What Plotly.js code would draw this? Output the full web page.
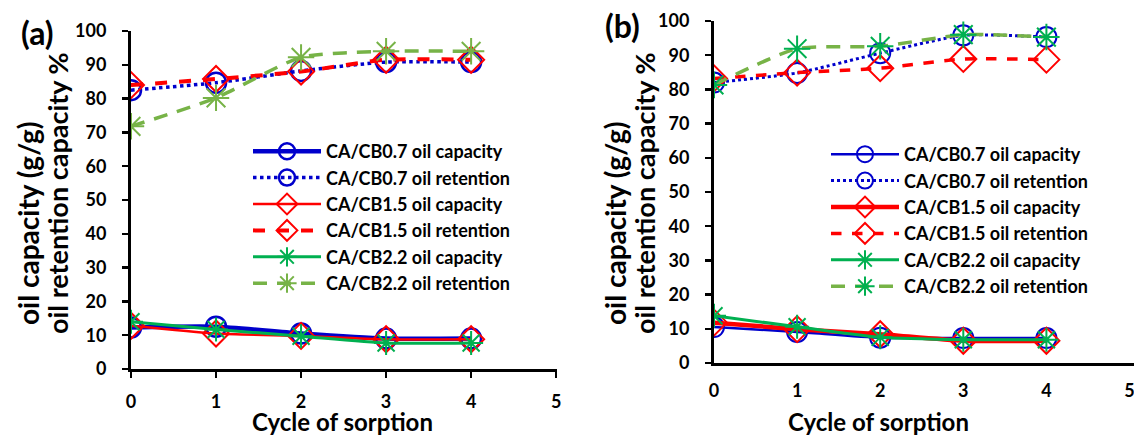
<!DOCTYPE html>
<html>
<head>
<meta charset="utf-8">
<script src="https://cdn.plot.ly/plotly-3.0.1.min.js"></script>
<style>html,body{margin:0;padding:0;background:#fff;}#chart{width:1134px;height:435px;}</style>
</head>
<body>
<div id="chart"></div>
<script>
// x values: cycle of sorption
const cycles = [0, 1, 2, 3, 4];

// Panel (a)
const a_cb07_cap = [12.3, 12.5, 10.5, 9.0, 9.0];
const a_cb07_ret = [82.5, 84.7, 88.2, 90.8, 90.8];
const a_cb15_cap = [12.8, 10.5, 9.8, 8.8, 8.8];
const a_cb15_ret = [84.0, 85.8, 88.0, 91.5, 91.5];
const a_cb22_cap = [14.0, 11.7, 9.7, 7.7, 7.7];
const a_cb22_ret = [71.8, 80.2, 92.2, 94.0, 94.0];

// Panel (b)
const b_cb07_cap = [10.5, 9.1, 7.4, 7.3, 7.3];
const b_cb07_ret = [82.0, 84.8, 90.6, 95.8, 95.3];
const b_cb15_cap = [11.8, 9.9, 8.4, 6.5, 6.5];
const b_cb15_ret = [83.2, 84.9, 86.2, 88.9, 88.7];
const b_cb22_cap = [13.8, 10.6, 7.5, 6.8, 6.8];
const b_cb22_ret = [81.3, 91.9, 92.6, 96.0, 95.3];

const names = [
  "CA/CB0.7 oil capacity", "CA/CB0.7 oil retention",
  "CA/CB1.5 oil capacity", "CA/CB1.5 oil retention",
  "CA/CB2.2 oil capacity", "CA/CB2.2 oil retention"
];
const panelLabels = ["(a)", "(b)"];
const yTitle1 = "oil capacity (g/g)";
const yTitle2 = "oil retention capacity %";
const xTitle = "Cycle of sorption";

const BLUE = "#0000CC", RED = "#FF0000", GREEN = "#00B050", LGREEN = "#77B347";
const FONT = "Lato, 'Open Sans', sans-serif";

function tr(y, name, xa, ya, leg, line, marker) {
  return {
    x: cycles, y: y, name: name, xaxis: xa, yaxis: ya, legend: leg,
    type: "scatter", mode: "lines+markers",
    line: Object.assign({shape: "spline", smoothing: 0.6}, line),
    marker: marker
  };
}

const data = [
  // panel a
  tr(a_cb07_cap, names[0], "x", "y", "legend", {color: BLUE, width: 4.5}, {symbol: "circle-open", size: 20, color: BLUE, line: {width: 2.5}}),
  tr(a_cb07_ret, names[1], "x", "y", "legend", {color: BLUE, width: 3.5, dash: "dot"}, {symbol: "circle-open", size: 20, color: BLUE, line: {width: 2.5}}),
  tr(a_cb15_cap, names[2], "x", "y", "legend", {color: RED, width: 2.5}, {symbol: "diamond-open", size: 20, color: RED, line: {width: 2}}),
  tr(a_cb15_ret, names[3], "x", "y", "legend", {color: RED, width: 4, dash: "dash"}, {symbol: "diamond-open", size: 20, color: RED, line: {width: 2}}),
  tr(a_cb22_cap, names[4], "x", "y", "legend", {color: GREEN, width: 3}, {symbol: "asterisk-open", size: 20, color: GREEN, line: {width: 2, color: GREEN}}),
  tr(a_cb22_ret, names[5], "x", "y", "legend", {color: LGREEN, width: 3.5, dash: "14px,10px"}, {symbol: "asterisk-open", size: 22, color: LGREEN, line: {width: 2, color: LGREEN}}),
  // panel b
  tr(b_cb07_cap, names[0], "x2", "y2", "legend2", {color: BLUE, width: 2.5}, {symbol: "circle-open", size: 20, color: BLUE, line: {width: 2}}),
  tr(b_cb07_ret, names[1], "x2", "y2", "legend2", {color: BLUE, width: 3, dash: "dot"}, {symbol: "circle-open", size: 20, color: BLUE, line: {width: 2}}),
  tr(b_cb15_cap, names[2], "x2", "y2", "legend2", {color: RED, width: 4.5}, {symbol: "diamond-open", size: 20, color: RED, line: {width: 2}}),
  tr(b_cb15_ret, names[3], "x2", "y2", "legend2", {color: RED, width: 3.5, dash: "dash"}, {symbol: "diamond-open", size: 20, color: RED, line: {width: 2}}),
  tr(b_cb22_cap, names[4], "x2", "y2", "legend2", {color: GREEN, width: 3}, {symbol: "asterisk-open", size: 20, color: GREEN, line: {width: 2, color: GREEN}}),
  tr(b_cb22_ret, names[5], "x2", "y2", "legend2", {color: LGREEN, width: 3.5, dash: "14px,10px"}, {symbol: "asterisk-open", size: 22, color: GREEN, line: {width: 2, color: GREEN}})
];

const W = 1134, H = 435;
const px = v => v / W, py = v => 1 - v / H;

const tickFont = {family: FONT, size: 18, color: "#000", weight: "bold"};
const yAx = (dom) => ({
  domain: dom, range: [0, 100], dtick: 10, tick0: 0,
  showgrid: false, zeroline: false, showline: true, linecolor: "#000", linewidth: 3,
  ticks: "outside", ticklen: 6, tickwidth: 2.5, tickcolor: "#000",
  tickfont: tickFont, ticklabelstandoff: 12, fixedrange: true
});
const xAx = (dom, range, anchor, ticklen, standoff) => ({
  domain: dom, range: range, dtick: 1, tick0: 0, anchor: anchor,
  showgrid: false, zeroline: false, showline: true, linecolor: "#000", linewidth: 3,
  ticks: ticklen > 0 ? "outside" : "", ticklen: ticklen, tickwidth: 2.5, tickcolor: "#000",
  tickfont: tickFont, ticklabelstandoff: standoff, ticklabeloverflow: "allow", fixedrange: true
});

const legFont = {family: FONT, size: 18, color: "#000", weight: "bold"};
const title1Font = {family: FONT, size: 28, weight: "bold", color: "#000"};
const title2Font = {family: FONT, size: 27, weight: "bold", color: "#000"};
const xTitleFont = {family: FONT, size: 24, weight: "bold", color: "#000"};
const labelFont = {family: FONT, size: 32, weight: "bold", color: "#000"};

function ann(text, x, y, font, angle) {
  return {text: text, x: px(x), y: py(y), xref: "paper", yref: "paper", showarrow: false,
          textangle: angle || 0, xanchor: "center", yanchor: "middle", font: font};
}

const layout = {
  width: W, height: H,
  margin: {l: 0, r: 0, t: 0, b: 0},
  paper_bgcolor: "#fff", plot_bgcolor: "rgba(0,0,0,0)",
  font: {family: FONT, color: "#000"},
  xaxis: xAx([px(131), px(557)], [0, 5.01], "y", 6, 8),
  yaxis: yAx([py(369), py(31)]),
  xaxis2: xAx([px(714), 1], [0, 5.054], "y2", 0, 9),
  yaxis2: Object.assign(yAx([py(363), py(21)]), {anchor: "x2"}),
  legend: {x: px(248), y: py(133), xanchor: "left", yanchor: "top", bgcolor: "rgba(0,0,0,0)",
           borderwidth: 0, font: legFont, itemwidth: 68, tracegroupgap: 0},
  legend2: {x: px(826), y: py(136), xanchor: "left", yanchor: "top", bgcolor: "rgba(0,0,0,0)",
           borderwidth: 0, font: legFont, itemwidth: 68, tracegroupgap: 0},
  annotations: [
    ann(panelLabels[0], 37, 32, labelFont),
    ann(panelLabels[1], 622, 25, labelFont),
    ann(yTitle1, 28, 224, title1Font, -90),
    ann(yTitle2, 58, 193, title2Font, -90),
    ann(yTitle1, 615, 224, title1Font, -90),
    ann(yTitle2, 645, 193, title2Font, -90),
    ann(xTitle, 342, 421, xTitleFont),
    ann(xTitle, 878, 421, xTitleFont)
  ],
  showlegend: true
};

Plotly.newPlot("chart", data, layout, {displayModeBar: false, staticPlot: true});
</script>
</body>
</html>
